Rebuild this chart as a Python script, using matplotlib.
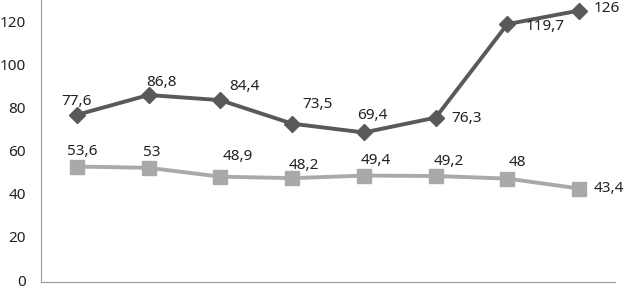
import numpy as np
import matplotlib.pyplot as plt

plt.rcParams['font.family'] = ['Noto Sans', 'DejaVu Sans']

# data
cats = ['1', '2', '3', '4', '5', '6', '7', '8']
top = [77.6, 86.8, 84.4, 73.5, 69.4, 76.3, 119.7, 126]
bottom = [53.6, 53, 48.9, 48.2, 49.4, 49.2, 48, 43.4]
top_lbl = ['77,6', '86,8', '84,4', '73,5', '69,4', '76,3', '119,7', '126']
bot_lbl = ['53,6', '53', '48,9', '48,2', '49,4', '49,2', '48', '43,4']

# label offsets in pixels (right, up)
top_off = [(0, 13), (13, 13), (24, 14), (25, 19), (8, 17), (31, -1), (38, -2), (28, 2)]
bot_off = [(5, 15), (3, 15), (17, 20), (12, 13), (12, 15), (13, 15), (10, 16), (30, 0)]

dpi = 100
fig = plt.figure(figsize=(6.27, 2.89), dpi=dpi)
ax = fig.add_axes([41 / 627, 7 / 289, 574 / 627, 282 / 289])

x = np.arange(len(cats))
c1 = '#595959'
c2 = '#a9a9a9'
ax.plot(x, top, color=c1, lw=2.8, marker='D', ms=8, zorder=3)
ax.plot(x, bottom, color=c2, lw=2.8, marker='s', ms=9.5, zorder=3)

k = 72 / dpi
for xi, v, t, o in zip(x, top, top_lbl, top_off):
    ax.annotate(t, (xi, v), xytext=(o[0] * k, o[1] * k), textcoords='offset points',
                ha='center', va='center', fontsize=11, color='#222222')
for xi, v, t, o in zip(x, bottom, bot_lbl, bot_off):
    ax.annotate(t, (xi, v), xytext=(o[0] * k, o[1] * k), textcoords='offset points',
                ha='center', va='center', fontsize=11, color='#222222')

ax.set_xlim(-0.5, len(cats) - 0.5)
ax.set_ylim(0, 130.9)
ax.set_yticks(np.arange(0, 121, 20))
ax.set_xticks([])
ax.tick_params(axis='y', length=0, pad=11, labelsize=11, labelcolor='#222222')
for lab in ax.get_yticklabels():
    lab.set_va('center')
for s in ['top', 'right']:
    ax.spines[s].set_visible(False)
ax.spines['left'].set_color('#999999')
ax.spines['bottom'].set_color('#999999')

fig.savefig('out.png', dpi=dpi)
